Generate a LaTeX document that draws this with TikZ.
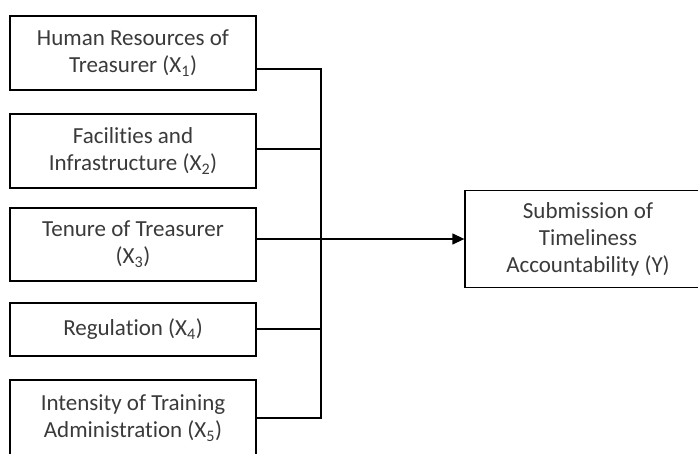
\documentclass[tikz,border=0pt]{standalone}
\usepackage{fontspec}
\setmainfont{Carlito}[Ligatures=NoCommon]
\usetikzlibrary{arrows.meta,calc}
\definecolor{txtgrey}{HTML}{3A3A3A}
\tikzset{
  varbox/.style={draw=black, line width=1.3pt, minimum width=246pt, inner sep=0pt,
    align=center, text=txtgrey, font=\fontsize{23}{27}\selectfont},
  conn/.style={draw=black, line width=1.3pt},
}
\begin{document}
\begin{tikzpicture}[x=1pt,y=-1pt]
\useasboundingbox (0,0) rectangle (698,453);
\clip (0,0) rectangle (698,453);
\node[varbox, minimum height=74pt] (b1) at (133,53) {Human Resources of\\Treasurer (X\textsubscript{1})};
\node[varbox, minimum height=74pt] (b2) at (133,151) {Facilities and\\Infrastructure (X\textsubscript{2})};
\node[varbox, minimum height=73pt] (b3) at (133,244.5) {Tenure of Treasurer\\(X\textsubscript{3})};
\node[varbox, minimum height=53pt] (b4) at (133,329.5) {Regulation (X\textsubscript{4})};
\node[varbox, minimum height=76pt] (b5) at (133,418) {Intensity of Training\\Administration (X\textsubscript{5})};
\node[varbox, minimum height=97pt] (y) at (588,239) {Submission of\\Timeliness\\Accountability (Y)};
\coordinate (j1) at (321,69);
\coordinate (j2) at (321,149);
\coordinate (j3) at (321,239);
\coordinate (j4) at (321,329);
\coordinate (j5) at (321,418);
\draw[conn] (b1.east |- j1) -- (j1) -- (j5) -- (b5.east |- j5);
\draw[conn] (b2.east |- j2) -- (j2);
\draw[conn] (b4.east |- j4) -- (j4);
\draw[conn, -{Triangle[length=12pt,width=11pt]}] (b3.east |- j3) -- (y.west);
\end{tikzpicture}
\end{document}
